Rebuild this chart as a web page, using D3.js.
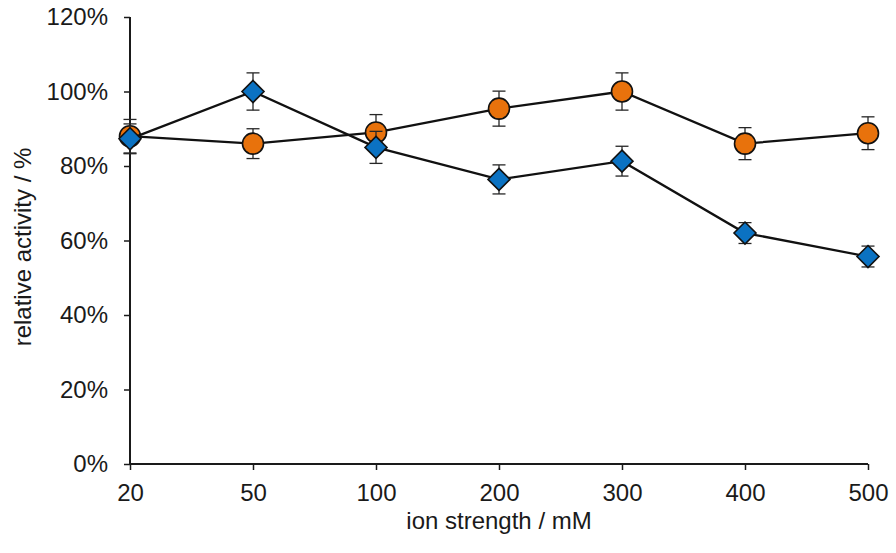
<!DOCTYPE html>
<html>
<head>
<meta charset="utf-8">
<script src="https://cdn.jsdelivr.net/npm/d3@7"></script>
<style>
  html, body { margin: 0; padding: 0; background: #fff; }
  svg { display: block; font-family: "Liberation Sans", Arial, sans-serif; }
</style>
</head>
<body>
<svg id="chart" width="896" height="553"></svg>
<script>
const categories = ["20", "50", "100", "200", "300", "400", "500"];
const orangeValues = [88.0, 86.0, 89.0, 95.4, 100.0, 86.0, 88.8];
const orangeErrors = [4.5, 4.0, 4.8, 4.7, 5.0, 4.3, 4.4];
const blueValues = [87.3, 100.0, 85.0, 76.4, 81.3, 62.0, 55.7];
const blueErrors = [4.0, 5.0, 4.3, 3.9, 4.0, 2.8, 2.8];
const yTicks = [0, 20, 40, 60, 80, 100, 120];

const svg = d3.select("#chart");
const x = d3.scalePoint().domain(categories).range([130, 868]).padding(0);
const y = d3.scaleLinear().domain([0, 120]).range([464, 17]);

// Axes
const yAxis = d3.axisLeft(y).tickValues(yTicks).tickFormat(d => d + "%").tickSize(6).tickPadding(16);
const gy = svg.append("g").attr("transform", "translate(130,0)").call(yAxis);
const xAxis = d3.axisBottom(x).tickSize(6).tickPadding(14);
const gx = svg.append("g").attr("transform", "translate(0,464)").call(xAxis);

[gx, gy].forEach(g => {
  g.select(".domain").attr("stroke", "#1a1a1a").attr("stroke-width", 2);
  g.selectAll(".tick line").attr("stroke", "#1a1a1a").attr("stroke-width", 1.5);
  g.selectAll(".tick text").attr("fill", "#1a1a1a").style("font-size", "24px")
    .style("font-family", '"Liberation Sans", Arial, sans-serif');
});
gx.select(".domain").attr("d", "M130,0H868");
gy.select(".domain").attr("d", "M0,464V17");
gx.selectAll(".tick text").attr("dy", "0.71em");

// Axis titles
svg.append("text").attr("x", 499).attr("y", 529).attr("text-anchor", "middle")
  .attr("fill", "#1a1a1a").style("font-size", "24px").text("ion strength / mM");
svg.append("text").attr("transform", "translate(31,247) rotate(-90)").attr("text-anchor", "middle")
  .attr("fill", "#1a1a1a").style("font-size", "24px").text("relative activity / %");

const line = d3.line().x(d => x(d.c)).y(d => y(d.v));

function drawSeries(values, errors, kind, fill) {
  const data = categories.map((c, i) => ({ c, v: values[i], e: errors[i] }));
  const g = svg.append("g");
  // error bars
  const eb = g.append("g").attr("stroke", "#262626").attr("stroke-width", 1.3).attr("fill", "none");
  data.forEach(d => {
    const cx = x(d.c), y1 = y(d.v + d.e), y2 = y(d.v - d.e);
    eb.append("line").attr("x1", cx).attr("x2", cx).attr("y1", y1).attr("y2", y2);
    eb.append("line").attr("x1", cx - 6.5).attr("x2", cx + 6.5).attr("y1", y1).attr("y2", y1);
    eb.append("line").attr("x1", cx - 6.5).attr("x2", cx + 6.5).attr("y1", y2).attr("y2", y2);
  });
  g.append("path").datum(data).attr("d", line).attr("fill", "none")
    .attr("stroke", "#111").attr("stroke-width", 2.3);
  if (kind === "circle") {
    g.selectAll("circle").data(data).join("circle")
      .attr("cx", d => x(d.c)).attr("cy", d => y(d.v)).attr("r", 10.5)
      .attr("fill", fill).attr("stroke", "#111").attr("stroke-width", 1.6);
  } else {
    const s = 11;
    g.selectAll("path.dm").data(data).join("path").attr("class", "dm")
      .attr("d", d => {
        const cx = x(d.c), cy = y(d.v);
        return `M${cx},${cy - s}L${cx + s},${cy}L${cx},${cy + s}L${cx - s},${cy}Z`;
      })
      .attr("fill", fill).attr("stroke", "#111").attr("stroke-width", 1.6);
  }
}

drawSeries(orangeValues, orangeErrors, "circle", "#E8720C");
drawSeries(blueValues, blueErrors, "diamond", "#0B72C2");
</script>
</body>
</html>
